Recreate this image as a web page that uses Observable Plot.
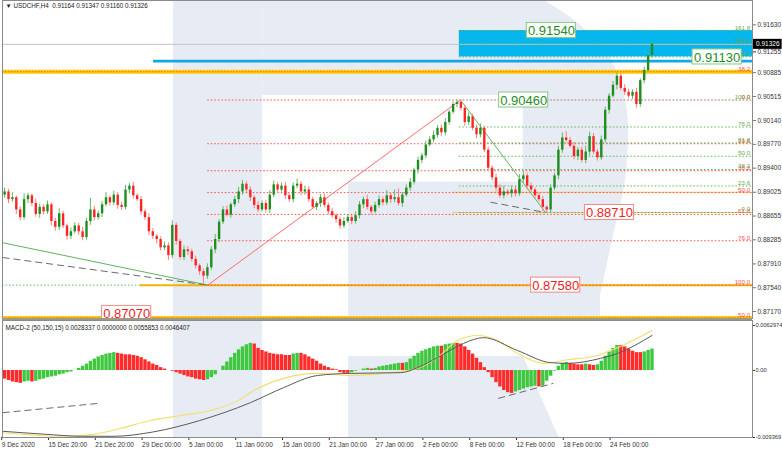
<!DOCTYPE html>
<html><head><meta charset="utf-8">
<script src="https://cdn.jsdelivr.net/npm/d3@7"></script>
<script src="https://cdn.jsdelivr.net/npm/@observablehq/plot@0.6"></script>
<style>
body{margin:0;background:#fff;}
#wrap{position:relative;width:782px;height:452px;overflow:hidden;background:#fff;}
#main{position:absolute;left:0;top:0;}
#macd{position:absolute;left:0;top:318px;}
#sep{position:absolute;left:2px;top:318px;width:750px;height:2px;background:#9c9a86;}
svg{overflow:visible}
</style></head><body>
<div id="wrap"><div id="main"></div><div id="macd"></div><div id="sep"></div></div>
<script>
// ---------- data ----------
const symbolTitle = "▼ USDCHF,H4  0.91164 0.91347 0.91160 0.91326";
const macdTitle = "MACD-2 (50,150,15) 0.0028337 0.0000000 0.0055853 0.0046407";
const firstOpen = 0.8898;
const closes = [
0.8903,0.8891,0.8894,0.8875,0.8863,0.8891,0.8897,0.8885,0.8868,0.8879,
0.8872,0.8883,0.8857,0.8848,0.8869,0.8850,0.8834,0.8841,0.8850,0.8841,
0.8832,0.8857,0.8875,0.8863,0.8869,0.8883,0.8894,0.8886,0.8898,0.8882,
0.8879,0.8906,0.8912,0.8897,0.8891,0.8872,0.8863,0.8841,0.8834,0.8829,
0.8816,0.8819,0.8804,0.8851,0.8826,0.8801,0.8813,0.8810,0.8798,0.8788,
0.8779,0.8772,0.8785,0.8813,0.8829,0.8856,0.8875,0.8867,0.8883,0.8891,
0.8903,0.8915,0.8906,0.8894,0.8882,0.8875,0.8885,0.8875,0.8898,0.8914,
0.8906,0.8912,0.8897,0.8891,0.8912,0.8915,0.8903,0.8906,0.8891,0.8879,
0.8885,0.8894,0.8882,0.8872,0.8866,0.8860,0.8850,0.8857,0.8863,0.8857,
0.8866,0.8883,0.8891,0.8879,0.8872,0.8882,0.8891,0.8886,0.8897,0.8891,
0.8894,0.8885,0.8898,0.8909,0.8918,0.8937,0.8952,0.8959,0.8976,0.8984,
0.8991,0.9002,0.8995,0.9011,0.9027,0.9039,0.9042,0.9033,0.9011,0.9020,
0.9002,0.8992,0.9002,0.8968,0.8940,0.8925,0.8909,0.8897,0.8903,0.8900,
0.8906,0.8900,0.8922,0.8928,0.8912,0.8906,0.8897,0.8891,0.8879,0.8875,
0.8909,0.8928,0.8968,0.8987,0.8983,0.8974,0.8958,0.8968,0.8952,0.8965,
0.8989,0.8965,0.8956,0.8984,0.9030,0.9052,0.9069,0.9083,0.9064,0.9058,
0.9052,0.9058,0.9039,0.9076,0.9092,0.9115,0.9133];
const upWick = [
6,4,8,3,5,9,4,3,7,5, 4,6,3,5,8,4,3,6,5,4, 7,5,18,6,4,5,8,3,6,4, 5,7,4,6,3,5,4,6,5,3,
4,6,5,7,4,3,6,5,4,5, 3,4,6,5,8,4,5,6,3,5, 7,6,4,5,3,6,4,5,7,6, 4,5,6,3,5,8,4,6,5,4,
3,5,6,4,5,3,4,6,5,4, 6,5,4,7,3,5,6,4,8,5, 12,14,4,5,6,3,5,4,6,5, 7,4,5,6,3,4,4,4,5,6,
4,5,7,3,5,4,6,5,9,4, 6,5,8,7,4,5,3,4,5,3, 5,4,6,8,10,5,6,4,5,9, 7,5,4,6,5,4,6,5,4,6,
5,4,6,3,5,4,2];
const downWick = [
5,6,4,7,5,4,6,5,4,6, 5,4,7,6,5,4,6,5,3,6, 5,4,6,5,4,6,3,5,4,6, 5,4,6,5,3,5,4,6,5,7,
5,4,8,5,6,4,5,6,4,5, 6,14,5,4,6,5,4,3,5,4, 6,5,4,6,5,4,3,5,6,4, 5,3,6,4,5,4,6,5,4,3,
5,6,4,5,4,6,5,4,3,5, 4,5,6,4,5,3,4,5,4,6, 5,4,6,3,5,4,6,5,4,3, 5,4,6,5,4,3,5,4,6,5,
4,6,5,4,3,5,6,4,5,3, 6,5,4,5,6,4,5,4,7,4, 5,4,6,5,4,3,5,6,4,5, 6,4,5,4,5,6,3,7,4,5,
4,5,6,4,5,3,4];
// MACD histogram (x 0.001)
const histogram = [
-1.2,-1.4,-1.6,-1.7,-1.8,-1.6,-1.5,-1.6,-1.5,-1.3,
-1.2,-1.0,-0.9,-0.8,-0.6,-0.5,-0.3,-0.2,0.0,0.3,
0.6,0.9,1.3,1.6,1.9,2.1,2.3,2.4,2.5,2.4,
2.3,2.2,2.2,2.1,2.0,1.8,1.5,1.2,0.9,0.7,
0.4,0.2,0.0,-0.1,-0.3,-0.5,-0.7,-0.9,-1.0,-1.2,
-1.3,-1.4,-1.3,-1.0,-0.6,0.0,0.6,1.2,1.8,2.4,
2.9,3.3,3.6,3.8,3.7,3.1,2.8,2.6,2.4,2.3,
2.2,2.2,2.1,2.1,2.3,2.4,2.4,2.2,1.9,1.6,
1.3,0.9,0.6,0.4,0.2,0.1,-0.3,-0.4,-0.4,-0.3,
-0.1,0.0,0.2,0.3,0.2,0.3,0.5,0.6,0.7,0.8,
0.9,1.0,1.0,1.1,1.6,2.0,2.4,2.7,2.9,3.1,
3.3,3.4,3.4,3.6,3.7,3.8,3.8,3.7,3.3,2.8,
2.3,1.7,1.1,0.4,-0.3,-1.0,-1.7,-2.3,-2.8,-3.1,
-3.2,-3.0,-2.8,-2.6,-2.4,-2.3,-2.2,-2.3,-2.2,-1.5,
-0.8,-0.1,0.6,1.0,1.1,1.0,0.9,0.8,0.8,0.9,
0.8,0.7,0.8,1.3,2.0,2.6,3.1,3.5,3.5,3.3,
3.0,2.7,2.5,2.5,2.6,2.8,3.0];
const macdMainX = [-0.5,6.6,14.3,22,29.7,37.4,45.1,52.8,60.5,63,71.5,80.2,88.7,97.2,105.9,111,116.1,121.3,126.4,131.5,138.2,144.3,152,157.2,166];
const macdMainV = [-8.7,-9.0,-9.2,-9.0,-8.1,-7.0,-6.3,-5.6,-4.0,-3.1,-1.1,-0.4,-0.7,-0.4,0.3,1.8,4.2,4.9,4.2,2.4,1.0,1.5,2.1,3.2,5.6];
const macdSignalX = [-0.5,10,20,28,38,50,63,71.5,80.2,88.7,101.5,105.9,111,117.7,122.8,131.5,140,144.3,152.8,157.2,166];
const macdSignalV = [-8.5,-8.9,-9.2,-9.2,-8.6,-7.0,-4.5,-2.4,-0.7,-0.4,-0.3,0.4,1.8,3.8,4.6,2.8,1.1,1.0,1.7,2.4,4.9];
const tickIndex = [-1,11,23,35,47,59,71,83,95,107,119,131,143,155];
const tickLabels = ["9 Dec 2020","15 Dec 20:00","21 Dec 20:00","29 Dec 00:00","5 Jan 00:00","11 Jan 00:00","15 Jan 00:00","21 Jan 00:00","27 Jan 00:00","2 Feb 00:00","8 Feb 00:00","12 Feb 00:00","18 Feb 00:00","24 Feb 00:00"];
const priceTicks = [0.91630,0.91255,0.90885,0.90515,0.90140,0.89770,0.89400,0.89025,0.88655,0.88285,0.87910,0.87540,0.87170];
const lastPrice = 0.91326;
const greenFibNames = ["161.8","150.0","138.2","100.0","76.0","61.8","50.0","38.2","23.6","0.0"];
const greenFibPrices = [0.91540,0.91335,0.91130,0.90460,0.90040,0.89792,0.89585,0.89379,0.89123,0.88710];
const redFibNames = ["0.0","23.6","38.2","50.0","61.8","76.0","100.0"];
const redFibPrices = [0.90460,0.89780,0.89360,0.89020,0.88680,0.88271,0.87580];
const outerFibNames = ["38.2","50.0"];
const outerFibPrices = [0.90900,0.87070];
const boxLabelText = ["0.91540","0.91130","0.90460","0.88710","0.87580","0.87070"];
const boxLabelPrice = [0.91540,0.91130,0.90460,0.88710,0.87580,0.87070];
const boxLabelBar = [140.2,182.7,133.1,155.1,141.3,31.3];
const boxLabelKind = ["up","up","up","down","down","down"];
const macdTicks = [6.2974,0,-9.369];
const macdTickText = ["0.0062974","0.00","-0.009369"];

// ---------- layout ----------
const W = 782, XR = 191.77, XL = -0.54;
const xScale = {domain:[XL, XR], range:[2, 752]};
const F = "Liberation Sans, Arial, sans-serif";
const GREEN = "#1f8d1f", RED = "#ff2424";
const logoFill = "#e7ebf3";
const boxShift = [0,0,0,0,0,-4.5]; // px nudge of each boxed label

const candles = closes.map((c, i) => {
  const o = i === 0 ? firstOpen : closes[i-1];
  return {i, o, c, h: Math.max(o,c) + upWick[i]/10000, l: Math.min(o,c) - downWick[i]/10000, up: c >= o};
});
const greenFib = greenFibNames.map((n,k)=>({n, p:greenFibPrices[k]}));
const redFib = redFibNames.map((n,k)=>({n, p:redFibPrices[k]}));
const outerFib = outerFibNames.map((n,k)=>({n, p:outerFibPrices[k]}));
const boxes = boxLabelText.map((t,k)=>({t, p:boxLabelPrice[k], i:boxLabelBar[k], up: boxLabelKind[k]==="up", s: boxShift[k]}));
const hist = histogram.map((v,i)=>({i, v, rising: i===0 ? v>=0 : v>histogram[i-1]}));
const macdMain = macdMainX.map((x,k)=>({x, v:macdMainV[k]}));
const macdSignal = macdSignalX.map((x,k)=>({x, v:macdSignalV[k]}));

// watermark pieces (bar-index / price units)
const logoRectsMain = [
  {x1:43.3, x2:66.1, y1:0.8600, y2:0.9300},
  {x1:66.1, x2:138.7, y1:0.90531, y2:0.9300},
  {x1:88.2, x2:152.8, y1:0.8600, y2:0.89184}
];
const logoBowl = [
  {p:0.91996, x2:138.7},{p:0.9180, x2:143.8},{p:0.91382, x2:152.0},{p:0.90763, x2:157.9},
  {p:0.89989, x2:160.0},{p:0.89215, x2:159.2},{p:0.88286, x2:155.9},{p:0.87048, x2:151.5}
];

function boxMarks(data, dy) {
  return [
    Plot.rect(data, {x1: d => d.i - 6.3, x2: d => d.i + 6.3, y1: d => d.p - 0.00117, y2: d => d.p + 0.00117, dy, fill:"white", stroke: d => d.up ? "#86c786" : "#f08a8a", strokeWidth: 1}),
    Plot.text(data, {x:"i", y:"p", text:"t", dy: dy + 0.5, fill: d => d.up ? GREEN : "#ee2222", fontSize: 13})
  ];
}

const main = Plot.plot({
  width: W, height: 320,
  marginLeft: 2, marginRight: 30, marginTop: 0, marginBottom: 2,
  style: {fontFamily: F, background: "transparent"},
  x: {...xScale, axis: null},
  y: {domain:[0.87061, 0.91806], range:[318, 13], axis: null},
  marks: [
    Plot.rect(logoRectsMain, {x1:"x1", x2:"x2", y1:"y1", y2:"y2", fill: logoFill, clip: "frame"}),
    Plot.areaX(logoBowl, {y:"p", x1: 133, x2:"x2", fill: logoFill, curve:"monotone-y", clip:"frame"}),
    // blue zone + blue level
    Plot.rect([{a:boxLabelPrice[1], b:boxLabelPrice[0]}], {x1: () => 116.6, x2: () => XR, y1:"a", y2:"b", fill:"#06b6ee"}),
    Plot.ruleY([0.91065], {x1: 38.2, x2: XR, stroke:"#12a8e6", strokeWidth: 2.6}),
    // bid line
    Plot.ruleY([lastPrice], {x1: XL, x2: XR, stroke:"#c4c4c4", strokeWidth: 1}),
    // thick yellow levels
    Plot.ruleY(outerFib, {y:"p", x1: XL, x2: XR, stroke:"#ffcc00", strokeWidth: 4}),
    Plot.ruleY(outerFib, {y:"p", x1: XL, x2: XR, stroke:"#ff5a5a", strokeWidth: 1, strokeDasharray:"1.5,1.5"}),
    Plot.ruleY([redFibPrices[6]], {x1: 34.8, x2: XR, stroke:"#f2b200", strokeWidth: 2}),
    Plot.ruleY([redFibPrices[6]], {x1: XL, x2: 34.8, stroke:"#63b963", strokeWidth: 1, strokeDasharray:"1.5,2"}),
    Plot.ruleY([0.89025, 0.88710], {x1: 115, x2: XR, stroke:"#f7c650", strokeWidth: 1.2}),
    // red fib
    Plot.ruleY(redFib, {y:"p", x1: 52.1, x2: XR, stroke:"#ff4c4c", strokeWidth: 1, strokeDasharray:"1.5,2"}),
    // green fib
    Plot.ruleY(greenFib, {y:"p", x1: 116.6, x2: XR, stroke: d => d.n==="100.0" ? "#9ed3c6" : "#5fb45f", strokeWidth: 1, strokeDasharray:"1.5,2"}),
    // trend lines
    Plot.link([{x1:XL, y1:0.8824, x2:52.1, y2:0.8758}], {x1:"x1", y1:"y1", x2:"x2", y2:"y2", stroke:"#5fb45f", strokeWidth:1}),
    Plot.link([{x1:XL, y1:0.8801, x2:52.1, y2:0.8758}, {x1:124.6, y1:0.8887, x2:138.7, y2:0.8871}], {x1:"x1", y1:"y1", x2:"x2", y2:"y2", stroke:"#6a6a6a", strokeWidth:1, strokeDasharray:"7,4"}),
    Plot.link([{x1:52.1, y1:0.8758, x2:116.9, y2:0.9046}], {x1:"x1", y1:"y1", x2:"x2", y2:"y2", stroke:"#ff6b6b", strokeWidth:1}),
    Plot.link([{x1:116.9, y1:0.9046, x2:138.7, y2:0.8871}], {x1:"x1", y1:"y1", x2:"x2", y2:"y2", stroke:"#5fb45f", strokeWidth:1}),
    // candles
    Plot.ruleX(candles, {x:"i", y1:"l", y2:"h", stroke: d => d.up ? "#62b862" : "#ff8080", strokeWidth: 1}),
    Plot.ruleX(candles, {x:"i", y1:"o", y2:"c", stroke: d => d.up ? GREEN : RED, strokeWidth: 2.4}),
    // fib labels
    Plot.text(redFib, {x: XR - 0.6, y:"p", text:"n", textAnchor:"end", dy:-3, fill:"#ff5050", fontSize: 6.2}),
    Plot.text(outerFib, {x: XR - 0.6, y:"p", text:"n", textAnchor:"end", dy:-3, fill:"#ff5050", fontSize: 6.2}),
    Plot.text(greenFib, {x: XR - 0.6, y:"p", text:"n", textAnchor:"end", dy:-3, fill:"#6aa83e", fontSize: 6.2}),
    // boxed price labels
    ...boxMarks(boxes.filter(d => d.s === 0), 0),
    ...boxMarks(boxes.filter(d => d.s !== 0), boxShift[5]),
    // current price marker
    Plot.rect([{p:lastPrice}], {x1: () => XR, x2: () => XR + 7.6, y1: d => d.p - 0.00078, y2: d => d.p + 0.00078, fill:"#000"}),
    Plot.text([{p:lastPrice}], {x: () => XR + 0.9, y:"p", text: d => d.p.toFixed(5), fill:"#fff", textAnchor:"start", fontSize: 6.5}),
    // axis
    Plot.axisY({anchor:"right", ticks: priceTicks.filter(t => Math.abs(t - lastPrice) > 0.001), tickFormat: d => d.toFixed(5), tickSize: 3, tickPadding: 2, fontSize: 6.5, color:"#333", stroke:"#777"}),
    Plot.axisY({anchor:"right", ticks: [priceTicks[1]], tickFormat: d => d.toFixed(5), tickSize: 3, tickPadding: 2, fontSize: 6.5, color:"#333", dy: 3}),
    Plot.text([symbolTitle], {frameAnchor:"top-left", dx: 3, dy: 3, fontSize: 6.3, fill:"#222"}),
    Plot.frame({stroke:"#8a8a8a", strokeWidth: 1})
  ]
});
document.getElementById("main").appendChild(main);

const logoRectsMacd = [{x1:43.3, x2:66.1, y1:-12, y2:8}];
const logoLeg = [{v:1.96, x2:133.0},{v:-11.5, x2:143.9}];
const labelOfTick = new Map(tickIndex.map((t,k)=>[t, tickLabels[k]]));
const macdTextOf = new Map(macdTicks.map((t,k)=>[t, macdTickText[k]]));

const macd = Plot.plot({
  width: W, height: 134,
  marginLeft: 2, marginRight: 30, marginTop: 2, marginBottom: 15,
  style: {fontFamily: F, background: "transparent"},
  x: {...xScale, axis: null},
  y: {domain:[-9.369, 6.2974], range:[119, 7], axis: null},
  marks: [
    Plot.rect(logoRectsMacd, {x1:"x1", x2:"x2", y1:"y1", y2:"y2", fill: logoFill, clip:"frame"}),
    Plot.areaX(logoLeg, {y:"v", x1: 88.2, x2:"x2", fill: logoFill, clip:"frame"}),
    Plot.ruleX(hist, {x:"i", y1: 0, y2:"v", stroke: d => d.rising ? "#3fc73f" : "#ff2b2b", strokeWidth: 3.4}),
    Plot.line(macdMain, {x:"x", y:"v", stroke:"#f3df6a", strokeWidth: 1.1, curve:"monotone-x"}),
    Plot.line(macdSignal, {x:"x", y:"v", stroke:"#5a5a5a", strokeWidth: 1, curve:"monotone-x"}),
    Plot.link([{x1:-0.5, y1:-5.9, x2:24, y2:-4.6}, {x1:126.6, y1:-3.9, x2:140.7, y2:-1.8}], {x1:"x1", y1:"y1", x2:"x2", y2:"y2", stroke:"#6a6a6a", strokeWidth:1, strokeDasharray:"7,4"}),
    Plot.text([macdTitle], {frameAnchor:"top-left", dx: 3, dy: 5, fontSize: 6.3, fill:"#222"}),
    Plot.axisY({anchor:"right", ticks: macdTicks, tickFormat: d => macdTextOf.get(d), tickSize: 2, tickPadding: 1, fontSize: 5.7, color:"#333"}),
    Plot.axisX({ticks: tickIndex, tickFormat: d => labelOfTick.get(d), textAnchor:"start", tickSize: 3, tickPadding: 2, dx: 1, fontSize: 6.5, color:"#333"}),
    Plot.frame({stroke:"#8a8a8a", strokeWidth: 1})
  ]
});
document.getElementById("macd").appendChild(macd);
</script>
</body></html>
